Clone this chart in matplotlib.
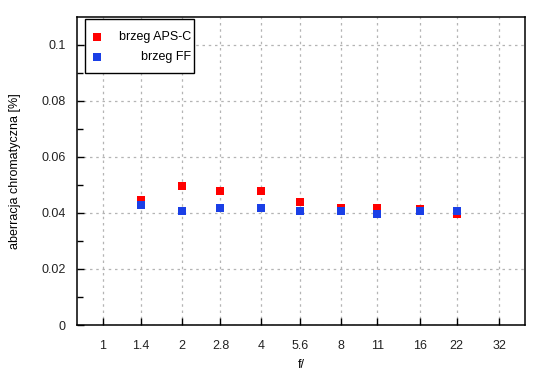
import matplotlib
matplotlib.use('Agg')
import matplotlib.pyplot as plt
from matplotlib.patches import Rectangle

plt.rcParams['font.family'] = ['Liberation Sans', 'DejaVu Sans']
plt.rcParams['font.size'] = 9

# data
f_stops = [1.4, 2, 2.8, 4, 5.6, 8, 11, 16, 22]
aps_c = [0.0446, 0.0495, 0.0478, 0.0478, 0.0439, 0.0417, 0.0418, 0.0414, 0.0395]
ff = [0.0428, 0.0407, 0.0417, 0.0417, 0.0407, 0.0405, 0.0396, 0.0407, 0.0407]
tick_vals = [1, 1.4, 2, 2.8, 4, 5.6, 8, 11, 16, 22, 32]
tick_labels = ['1', '1.4', '2', '2.8', '4', '5.6', '8', '11', '16', '22', '32']

fig = plt.figure(figsize=(5.5, 3.8), dpi=100)
ax = fig.add_axes([77 / 550, 55 / 380, 448 / 550, 308.3 / 380])

ax.plot(f_stops, aps_c, 's', color='#ff0000', markersize=5.2, markeredgewidth=0, zorder=3)
ax.plot(f_stops, ff, 's', color='#1a3fe6', markersize=5.2, markeredgewidth=0, zorder=4)

ax.set_xscale('log', base=2)
ax.set_xlim(0.8, 40)
ax.set_ylim(0, 0.11)
ax.set_xticks(tick_vals)
ax.set_xticklabels(tick_labels)
ax.minorticks_off()
ax.set_yticks([0, 0.02, 0.04, 0.06, 0.08, 0.1])
ax.set_yticklabels(['0', '0.02', '0.04', '0.06', '0.08', '0.1'])
ax.set_yticks([0.01, 0.03, 0.05, 0.07, 0.09], minor=True)

ax.tick_params(which='both', direction='in', top=False, right=False, colors='black', labelcolor='#222222')
ax.tick_params(which='major', length=5, width=1)
ax.tick_params(which='minor', length=4, width=1)
ax.tick_params(axis='x', pad=11)
ax.tick_params(axis='y', pad=8)

ax.grid(True, which='major', color='#b4b4b4', linestyle=(0, (2, 3)), linewidth=0.9)
ax.set_axisbelow(True)
for s in ax.spines.values():
    s.set_linewidth(1.1)

ax.set_xlabel('f/', labelpad=5)
ax.set_ylabel('aberracja chromatyczna [%]', labelpad=15)

# legend box drawn by hand (gnuplot style, right-aligned text)
ax.add_patch(Rectangle((0.017, 0.818), 0.245, 0.175, transform=ax.transAxes,
                       facecolor='white', edgecolor='black', linewidth=1, zorder=5))
ax.plot([0.045], [0.935], 's', color='#ff0000', markersize=5.2, markeredgewidth=0,
        transform=ax.transAxes, zorder=6, clip_on=False)
ax.plot([0.045], [0.87], 's', color='#1a3fe6', markersize=5.2, markeredgewidth=0,
        transform=ax.transAxes, zorder=6, clip_on=False)
ax.text(0.254, 0.935, 'brzeg APS-C', ha='right', va='center', transform=ax.transAxes, zorder=6)
ax.text(0.254, 0.87, 'brzeg FF', ha='right', va='center', transform=ax.transAxes, zorder=6)

fig.savefig('out.png', dpi=100)
